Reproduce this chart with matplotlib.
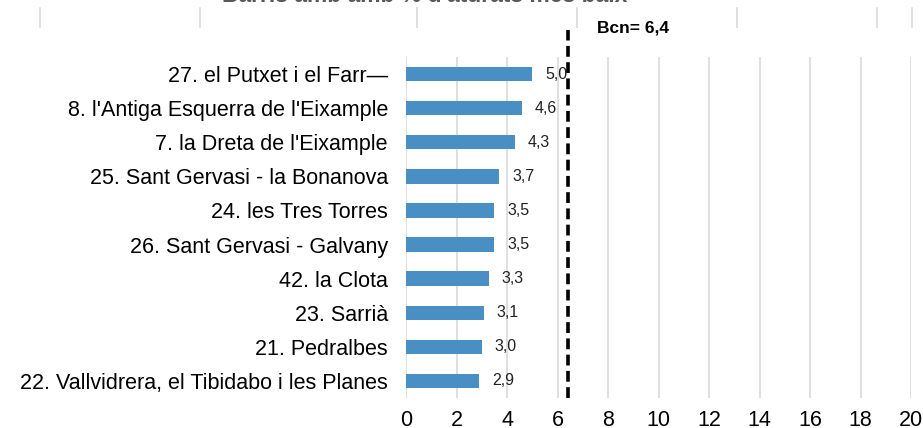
import matplotlib.pyplot as plt
from matplotlib.lines import Line2D

plt.rcParams['font.family'] = ['Liberation Sans', 'DejaVu Sans']

barris = ["27. el Putxet i el Farr\u2014",
          "8. l'Antiga Esquerra de l'Eixample",
          "7. la Dreta de l'Eixample",
          "25. Sant Gervasi - la Bonanova",
          "24. les Tres Torres",
          "26. Sant Gervasi - Galvany",
          "42. la Clota",
          "23. Sarrià",
          "21. Pedralbes",
          "22. Vallvidrera, el Tibidabo i les Planes"]
aturats = [5.0, 4.6, 4.3, 3.7, 3.5, 3.5, 3.3, 3.1, 3.0, 2.9]
bcn = 6.4
xticks = list(range(0, 21, 2))
title = "Barris amb amb % d'aturats més baix"

W, H = 923, 428
fig = plt.figure(figsize=(W / 100, H / 100), dpi=100)
ax = fig.add_axes([406 / W, 1 - 398 / H, (911 - 406) / W, (398 - 57) / H])

pos = list(range(len(barris)))
ax.barh(pos, aturats, height=0.42, color='#4a8fc4', zorder=3)
for p, v in zip(pos, aturats):
    ax.text(v + 0.5, p, f"{v:.1f}".replace('.', ','), va='center', ha='left',
            fontsize=11.5, color='#222222')

ax.axvline(bcn, ymin=0, ymax=1.08, color='black', lw=2.6, ls=(0, (3, 1.5)),
           clip_on=False, zorder=4)
ax.text(bcn + 1.15, -1.35, f"Bcn= {bcn}".replace('.', ','), fontsize=12.5,
        fontweight='bold', va='center', ha='left')

ax.set_xlim(0, 20)
ax.set_ylim(len(barris) - 0.5, -0.5)
ax.set_xticks(xticks)
ax.set_yticks(pos)
ax.set_yticklabels(barris, fontsize=15.5)
ax.tick_params(axis='x', labelsize=15.5, length=0, pad=9)
ax.tick_params(axis='y', length=0, pad=13)
ax.grid(axis='x', color='#d9d9d9', lw=1.2, zorder=0)
for s in ax.spines.values():
    s.set_visible(False)

# partial gridlines and title of the chart above (cut off)
for x in [40, 200, 417, 577, 737, 877, 912]:
    fig.add_artist(Line2D([x / W, x / W], [1 - 8 / H, 1 - 27 / H],
                          color='#d9d9d9', lw=1.2))
fig.text(425 / W, 1 - 1.5 / H, title, ha='center', va='baseline',
         fontsize=16.5, fontweight='bold', color='#595959')

fig.savefig('out.png', dpi=100)
